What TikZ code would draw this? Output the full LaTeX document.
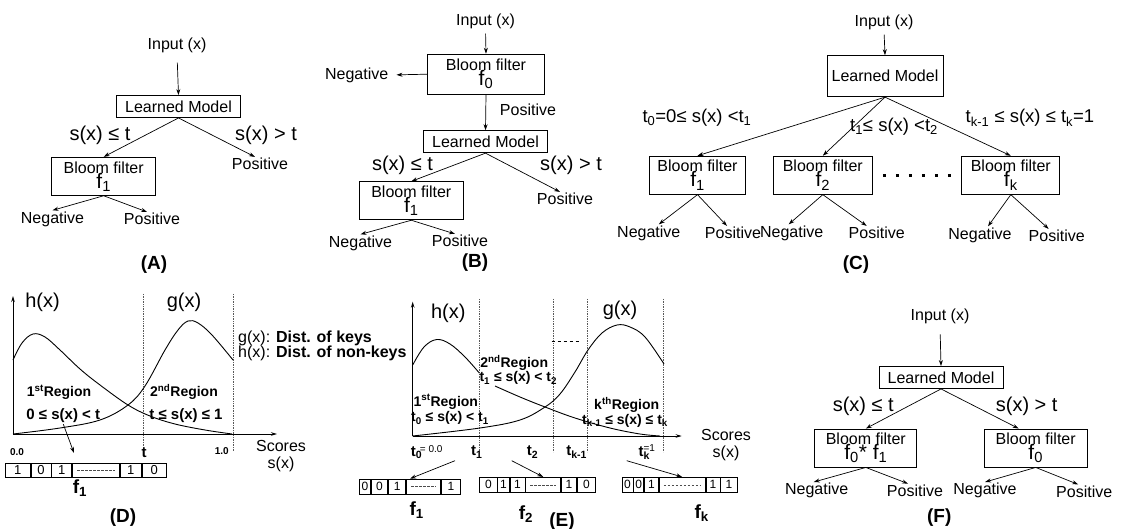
\documentclass[tikz,border=0pt]{standalone}
\usepackage{fontspec}
\setmainfont{Liberation Sans}
\usetikzlibrary{arrows.meta}
\pgfdeclarelayer{bg}
\pgfsetlayers{bg,main}
\newcommand{\fsub}[1]{{\fontsize{21}{21}\selectfont f\textsubscript{#1}}}
\tikzset{
  txt/.style={inner sep=1pt, font=\fontsize{16}{17}\selectfont},
  cond/.style={inner sep=1pt, font=\fontsize{20}{22}\selectfont},
  cond2/.style={inner sep=1pt, font=\fontsize{18.5}{20}\selectfont},
  model/.style={draw, line width=0.9pt, minimum width=124pt, minimum height=22pt, inner sep=0pt, font=\fontsize{16}{17}\selectfont},
  filter/.style={draw, line width=0.9pt, minimum width=104pt, minimum height=38pt, inner sep=0pt, align=center, font=\fontsize{16}{17}\selectfont},
  panel/.style={inner sep=1pt, font=\fontsize{19}{20}\selectfont\bfseries},
  arr/.style={-{Stealth[length=6pt,width=4pt]}, line width=0.7pt},
  axisline/.style={-{Stealth[length=6pt,width=3.5pt]}, line width=0.9pt},
  curveline/.style={line width=0.9pt},
  cutline/.style={densely dotted, line width=0.7pt, gray!70!black},
  regname/.style={inner sep=1pt, font=\fontsize{14}{15}\selectfont\bfseries},
  regcond/.style={inner sep=1pt, font=\fontsize{15}{16}\selectfont\bfseries},
  tk/.style={inner sep=1pt, font=\fontsize{15}{16}\selectfont\bfseries},
  smalltk/.style={inner sep=1pt, font=\fontsize{10}{11}\selectfont\bfseries},
  bit/.style={draw, line width=0.7pt, anchor=west, minimum height=14pt, inner sep=0pt, font=\fontsize{13}{13}\selectfont},
  gapline/.style={dash pattern=on 2.5pt off 1.5pt, line width=0.6pt, gray!60!black, shorten <=5pt, shorten >=5pt},
  flab/.style={inner sep=1pt, font=\fontsize{19}{20}\selectfont\bfseries},
  dotrow/.style={line width=3pt, dash pattern=on 3pt off 10pt},
}
\begin{document}
\begin{tikzpicture}[x=1pt,y=-1pt]
\useasboundingbox (0,0) rectangle (1138,529);

% (A) learned model in front of one filter
\node (inA) [txt] at (177,45) {Input (x)};
\node (lmA) [model] at (178.5,106.5) {Learned Model};
\node (sA1) [cond] at (100,135) {s(x) ≤ t};
\node (sA2) [cond] at (266,135) {s(x) > t};
\node (bfA) [filter] at (103.7,176.3) {Bloom filter\\[-2pt]\fsub{1}};
\node (posA0) [txt] at (260,164) {Positive};
\node (negA) [txt] at (52.5,219) {Negative};
\node (posA) [txt] at (152,219) {Positive};
\node (labA) [panel] at (154,265) {(A)};

% (B) filter, model, filter
\node (inB) [txt] at (485.5,21) {Input (x)};
\node (bf0B) [filter, minimum width=117pt, minimum height=40pt] at (486,74.2) {Bloom filter\\[-2pt]\fsub{0}};
\node (negB0) [txt] at (356.7,75) {Negative};
\node (posB0) [txt] at (528,110) {Positive};
\node (lmB) [model] at (485.5,141.7) {Learned Model};
\node (sB1) [cond] at (402.5,165) {s(x) ≤ t};
\node (sB2) [cond] at (571,165) {s(x) > t};
\node (bf1B) [filter] at (411.3,200.8) {Bloom filter\\[-2pt]\fsub{1}};
\node (posB1) [txt] at (565,199) {Positive};
\node (negB) [txt] at (360.5,243) {Negative};
\node (posB) [txt] at (460,241) {Positive};
\node (labB) [panel] at (475,263) {(B)};

% (C) one filter per score band
\node (inC) [txt] at (884,22) {Input (x)};
\node (lmC) [model, minimum width=116pt, minimum height=41pt] at (885,76.2) {Learned Model};
\node (sC1) [cond2] at (697,118) {t\textsubscript{0}=0≤ s(x) <t\textsubscript{1}};
\node (sC2) [cond2] at (894,127) {t\textsubscript{1}≤ s(x) <t\textsubscript{2}};
\node (sC3) [cond2] at (1030,118) {t\textsubscript{k-1} ≤ s(x) ≤ t\textsubscript{k}=1};
\node (bfC1) [filter, minimum width=96pt] at (697.5,175.2) {Bloom filter\\[-2pt]\fsub{1}};
\node (bfC2) [filter, minimum width=99pt] at (822.8,175.2) {Bloom filter\\[-2pt]\fsub{2}};
\node (bfCk) [filter, minimum width=98pt] at (1010.8,175.2) {Bloom filter\\[-2pt]\fsub{k}};
\node (negC1) [txt] at (648.8,233) {Negative};
\node (posC1) [txt] at (733,233) {Positive};
\node (negC2) [txt] at (791.7,233) {Negative};
\node (posC2) [txt] at (876.7,233) {Positive};
\node (negCk) [txt] at (980,235) {Negative};
\node (posCk) [txt] at (1056.7,236) {Positive};
\node (labC) [panel] at (856,265) {(C)};
\draw [dotrow] ([xshift=10pt]bfC2.east) -- ([xshift=-10pt]bfCk.west);

% (D) two regions of scores
\coordinate (oD) at (13,434);
\coordinate (yD) at (13,296);
\coordinate (xD) at (277,434);
\draw [axisline] (oD) -- (yD);
\draw [axisline] (oD) -- (xD);
\draw [cutline] (143.3,294) -- (143.3,452);
\draw [cutline] (233.3,294) -- (233.3,452);
\draw [curveline] plot [smooth, tension=0.6] coordinates {(13,360) (22,343) (33,334) (45,337) (60,350) (80,369) (100,385) (128,405) (150,416) (175,424) (205,430) (232,434)};
\draw [curveline] plot [smooth, tension=0.6] coordinates {(13,434) (60,428) (100,420) (128,405) (145,386) (165,350) (178,330) (188,321) (198,323) (212,335) (233,360)};
\node (hD) [cond] at (42.5,302) {h(x)};
\node (gD) [cond] at (184,302) {g(x)};
\node (keyD) [txt, anchor=west] at (237,338) {g(x): \textbf{Dist. of keys}};
\node (nonD) [txt, anchor=west] at (237,353) {h(x): \textbf{Dist. of non-keys}};
\node (r1D) [regname] at (59,392) {1\textsuperscript{st}Region};
\node (c1D) [regcond] at (63.3,416) {0 ≤ s(x) < t};
\node (r2D) [regname] at (184,392) {2\textsuperscript{nd}Region};
\node (c2D) [regcond] at (186,416) {t ≤ s(x) ≤ 1};
\node (t0D) [smalltk] at (17,452) {0.0};
\node (t1D) [tk] at (144,453) {t};
\node (t2D) [smalltk] at (221.7,451) {1.0};
\node (scD) [txt, align=center] at (281,456) {Scores\\s(x)};
\coordinate (tipD) at (74,453);
\node (d1) [bit, minimum width=25pt] at (5,470.5) {1};
\node (d2) [bit, minimum width=20pt] at (d1.east) {0};
\node (d3) [bit, minimum width=20pt] at (d2.east) {1};
\node (d4) [bit, minimum width=46.7pt] at (d3.east) {};
\node (d5) [bit, minimum width=21.6pt] at (d4.east) {1};
\node (d6) [bit, minimum width=24pt] at (d5.east) {0};
\draw [gapline] (d4.west) -- (d4.east);
\node (fD) [flab] at (80,488) {f\textsubscript{1}};
\node (labD) [panel] at (123,518) {(D)};

% (E) k regions of scores
\coordinate (oE) at (412.7,436);
\coordinate (yE) at (412.7,301.7);
\coordinate (xE) at (681.7,436);
\draw [axisline] (oE) -- (yE);
\draw [axisline] (oE) -- (xE);
\draw [cutline] (479.3,299) -- (479.3,452);
\draw [cutline] (553.3,299) -- (553.3,452);
\draw [cutline] (587.7,299) -- (587.7,452);
\draw [cutline] (663.3,299) -- (663.3,452);
\draw [dashed, line width=0.6pt] (551.7,341) -- (580,341);
\draw [curveline] plot [smooth, tension=0.6] coordinates {(412.7,365) (424,347) (436.7,339.5) (450,344) (465,357) (479.3,373)};
\draw [curveline] plot [smooth, tension=0.6] coordinates {(495,386) (520,397) (545,407) (575,418) (610,428) (640,434) (660,436)};
\draw [curveline] plot [smooth, tension=0.6] coordinates {(412.7,436) (480,428) (520,420) (545,407) (560,394) (575,372) (588,350) (602,333) (617,325) (630,327) (645,337) (664,364)};
\node (hE) [cond] at (448.3,313.3) {h(x)};
\node (gE) [cond] at (620,310) {g(x)};
\node (r2E) [regname] at (514.2,363.3) {2\textsuperscript{nd}Region};
\node (c2E) [regname] at (518.3,378.3) {t\textsubscript{1} ≤ s(x) < t\textsubscript{2}};
\node (r1E) [regname] at (445.8,401.7) {1\textsuperscript{st}Region};
\node (c1E) [regname] at (450,418.3) {t\textsubscript{0} ≤ s(x) < t\textsubscript{1}};
\node (rkE) [regname] at (626.7,405) {k\textsuperscript{th}Region};
\node (ckE) [regname] at (625,420.7) {t\textsubscript{k-1} ≤ s(x) ≤ t\textsubscript{k}};
\node (t0E) [tk] at (426.7,452) {t\rlap{\textsubscript{0}}\hspace{4pt}\raisebox{4pt}{\mdseries\fontsize{10}{10}\selectfont= 0.0}};
\node (t1E) [tk] at (476.7,452) {t\textsubscript{1}};
\node (t2E) [tk] at (532.5,452) {t\textsubscript{2}};
\node (tk1E) [tk] at (576.7,452) {t\textsubscript{k-1}};
\node (tkE) [tk] at (646.7,452) {t\rlap{\textsubscript{k}}\raisebox{5pt}{\mdseries\fontsize{10}{10}\selectfont=1}};
\node (scE) [txt, align=center] at (726,445) {Scores\\s(x)};
\coordinate (aE1) at (455,460.7);
\coordinate (aE2) at (511.7,460.7);
\coordinate (aE3) at (626.7,460.7);
\node (e11) [bit, minimum width=10.7pt, minimum height=15pt, font=\fontsize{12}{12}\selectfont] at (359.3,486.5) {0};
\node (e12) [bit, minimum width=16.7pt, minimum height=15pt, font=\fontsize{12}{12}\selectfont] at (e11.east) {0};
\node (e13) [bit, minimum width=17.3pt, minimum height=15pt, font=\fontsize{12}{12}\selectfont] at (e12.east) {1};
\node (e14) [bit, minimum width=34.3pt, minimum height=15pt] at (e13.east) {};
\node (e15) [bit, minimum width=19pt, minimum height=15pt, font=\fontsize{12}{12}\selectfont] at (e14.east) {1};
\node (e21) [bit, minimum width=17.4pt, minimum height=15pt, font=\fontsize{12}{12}\selectfont] at (479.3,484.8) {0};
\node (e22) [bit, minimum width=11.6pt, minimum height=15pt, font=\fontsize{12}{12}\selectfont] at (e21.east) {1};
\node (e23) [bit, minimum width=15pt, minimum height=15pt, font=\fontsize{12}{12}\selectfont] at (e22.east) {1};
\node (e24) [bit, minimum width=35pt, minimum height=15pt] at (e23.east) {};
\node (e25) [bit, minimum width=15pt, minimum height=15pt, font=\fontsize{12}{12}\selectfont] at (e24.east) {1};
\node (e26) [bit, minimum width=18.4pt, minimum height=15pt, font=\fontsize{12}{12}\selectfont] at (e25.east) {0};
\node (e31) [bit, minimum width=11pt, minimum height=15pt, font=\fontsize{12}{12}\selectfont] at (621.7,484.8) {0};
\node (e32) [bit, minimum width=10pt, minimum height=15pt, font=\fontsize{12}{12}\selectfont] at (e31.east) {0};
\node (e33) [bit, minimum width=14pt, minimum height=15pt, font=\fontsize{12}{12}\selectfont] at (e32.east) {1};
\node (e34) [bit, minimum width=46pt, minimum height=15pt] at (e33.east) {};
\node (e35) [bit, minimum width=14pt, minimum height=15pt, font=\fontsize{12}{12}\selectfont] at (e34.east) {1};
\node (e36) [bit, minimum width=16.6pt, minimum height=15pt, font=\fontsize{12}{12}\selectfont] at (e35.east) {1};
\draw [gapline] (e14.west) -- (e14.east);
\draw [gapline] (e24.west) -- (e24.east);
\draw [gapline] (e34.west) -- (e34.east);
\node (fE1) [flab] at (416.7,510) {f\textsubscript{1}};
\node (fE2) [flab] at (526,514) {f\textsubscript{2}};
\node (fEk) [flab] at (701.7,513) {f\textsubscript{k}};
\node (labE) [panel] at (562,522) {(E)};

% (F) two filters behind the model
\node (inF) [txt] at (940,316.7) {Input (x)};
\node (lmF) [model] at (941,377.5) {Learned Model};
\node (sF1) [cond] at (863.3,406.7) {s(x) ≤ t};
\node (sF2) [cond] at (1026.7,406.7) {s(x) > t};
\node (bfF1) [filter, minimum width=102pt] at (865.8,448) {Bloom filter\\[-2pt]{\fontsize{21}{21}\selectfont f\textsubscript{0}* f\textsubscript{1}}};
\node (bfF2) [filter, minimum width=103pt] at (1035.7,448) {Bloom filter\\[-2pt]\fsub{0}};
\node (negF1) [txt] at (816.7,490.7) {Negative};
\node (posF1) [txt] at (915,490.7) {Positive};
\node (negF2) [txt] at (985,490.7) {Negative};
\node (posF2) [txt] at (1084.2,491.5) {Positive};
\node (labF) [panel] at (939.2,518) {(F)};

\begin{pgfonlayer}{bg}
        \draw (inA.south) edge [arr, shorten <=9pt] (lmA.north);
        \draw (lmA.south) edge [arr] (bfA.north);
        \draw (lmA.south) edge [arr] ([xshift=-5pt]posA0.north);
        \draw (bfA.south) edge [arr] (negA.north);
        \draw (bfA.south) edge [arr] ([xshift=-5pt]posA.north);
        \draw (inB.south) edge [arr, shorten <=4pt] (bf0B.north);
        \draw (bf0B.west) edge [arr, shorten >=7pt] (negB0.east);
        \draw (bf0B.south) edge [arr] (lmB.north);
        \draw (lmB.south) edge [arr] (bf1B.north);
        \draw (lmB.south) edge [arr] ([xshift=-5pt]posB1.north);
        \draw (bf1B.south) edge [arr] (negB.north);
        \draw (bf1B.south) edge [arr] ([xshift=-5pt]posB.north);
        \draw (inC.south) edge [arr, shorten <=4pt] (lmC.north);
        \draw (lmC.south) edge [arr] (bfC1.north);
        \draw (lmC.south) edge [arr] (bfC2.north);
        \draw (lmC.south) edge [arr] (bfCk.north);
        \draw (bfC1.south) edge [arr] ([xshift=10pt]negC1.north);
        \draw (bfC1.south) edge [arr] ([xshift=-6pt]posC1.north);
        \draw (bfC2.south) edge [arr] ([xshift=-3pt]negC2.north);
        \draw (bfC2.south) edge [arr] ([xshift=-10pt]posC2.north);
        \draw (bfCk.south) edge [arr] ([xshift=8pt]negCk.north);
        \draw (bfCk.south) edge [arr] ([xshift=-8pt]posCk.north);
        \draw (c1D.south) edge [arr] (tipD);
        \draw (aE1) edge [arr] ([xshift=4pt]e14.north west);
        \draw (aE2) edge [arr] (e24.north);
        \draw (aE3) edge [arr] (e34.north);
        \draw (inF.south) edge [arr, shorten <=9pt] (lmF.north);
        \draw (lmF.south) edge [arr] (bfF1.north);
        \draw (lmF.south) edge [arr] ([xshift=-17pt]bfF2.north);
        \draw (bfF1.south) edge [arr] ([xshift=-3pt]negF1.north);
        \draw (bfF1.south) edge [arr] ([xshift=-7pt]posF1.north);
        \draw (bfF2.south) edge [arr] (negF2.north);
        \draw (bfF2.south) edge [arr] ([xshift=-6pt]posF2.north);
\end{pgfonlayer}
\end{tikzpicture}
\end{document}
